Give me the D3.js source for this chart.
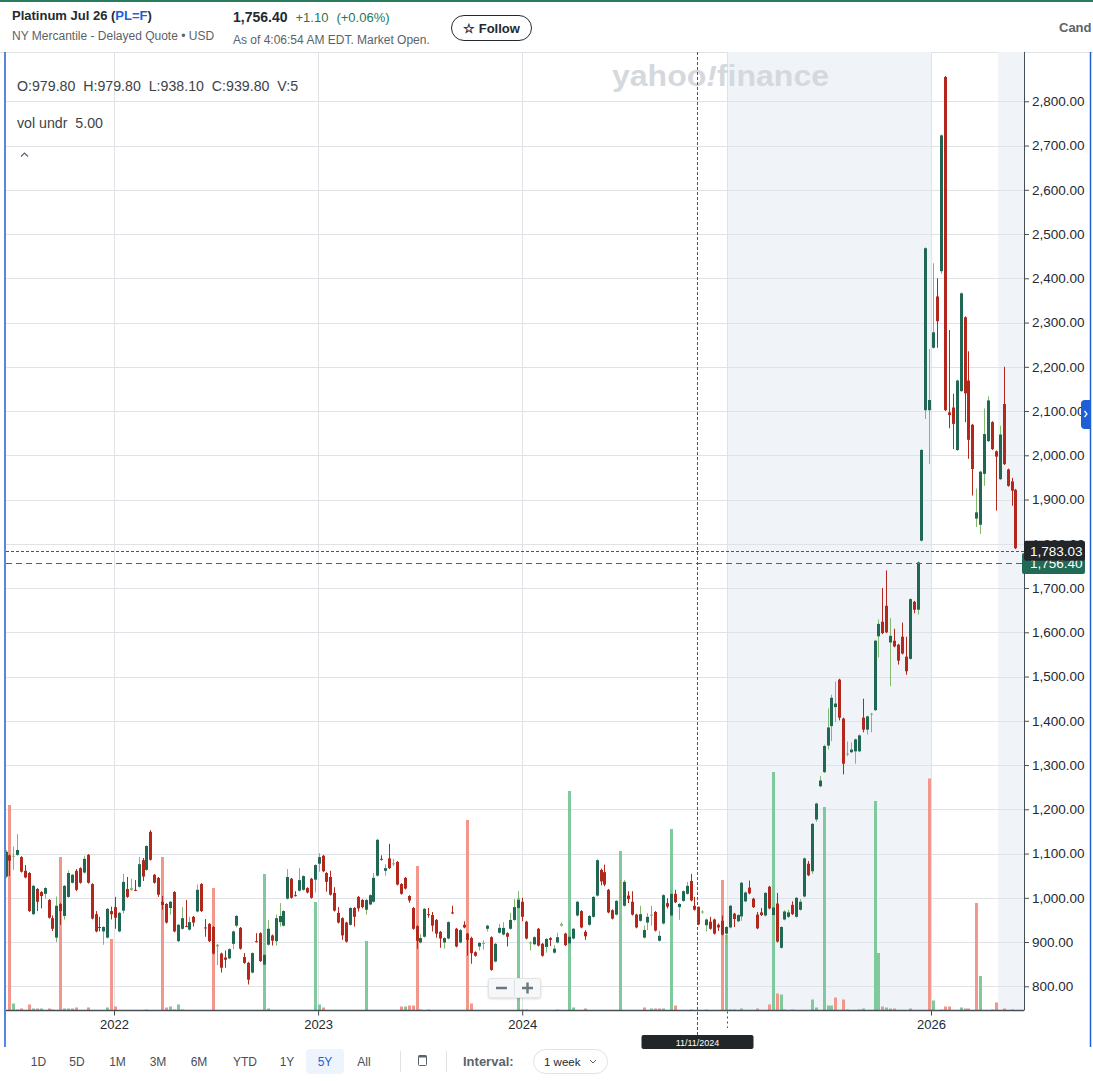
<!DOCTYPE html>
<html>
<head>
<meta charset="utf-8">
<title>Platinum Jul 26 (PL=F)</title>
<script src="https://cdn.jsdelivr.net/npm/d3@7"></script>
<style>
  html, body { margin: 0; padding: 0; background: #fff; }
  svg { display: block; font-family: "Liberation Sans", Arial, Helvetica, sans-serif; }
</style>
</head>
<body>
<script>
// weekly candles, Monday weeks starting 2021-06-21
const firstWeek = "2021-06-21";

const opens = [1048,1096,1093,1097,1092,1061,1056,963,1020,1013,
  1009,995,954,910,986,959,1002,1034,1061,1067,
  1057,1097,1031,963,934,924,910,970,979,924,
  971,1020,1018,1018,1025,1085,1063,1149,1052,1045,
  991,986,977,1013,902,930,936,928,957,969,
  1031,933,941,934,890,874,865,863,896,937,
  932,866,853,831,902,920,849,894,915,902,
  945,937,998,1043,1006,1016,1018,1022,1043,1041,
  1077,1095,1056,1047,1011,966,954,944,939,977,
  1002,995,973,985,991,1050,1088,1061,1089,1077,
  1081,1031,1045,1004,977,936,899,912,963,961,
  950,923,899,908,967,930,899,939,919,909,
  877,890,896,930,911,856,921,917,920,930,
  950,977,991,946,898,895,930,896,889,909,
  876,899,937,919,897,908,960,970,923,939,
  957,1005,1063,1058,1018,972,962,998,982,1005,
  991,962,948,910,944,961,968,903,942,988,
  960,1009,979,993,1009,1038,982,979.8,967,938,
  946,951,939,948,919,933,964,947,958,992,
  1023,998,962,967,960,1025,961,987,887,951,
  957,984,957,973,1003,1077,1060,1177,1252,1284,
  1344,1388,1431,1493,1405,1324,1329,1331,1331,1407,
  1380,1414,1424,1591,1624,1660,1577,1581,1572,1590,
  1545,1540,1669,1651,1807,2102,2102,2243,2359,2416,
  2855,2097,2108,2012,2145,2312,2169,2069,1857,1843,
  1958,2032,2075,2009,1946,2116,1968,1941,1922];

const highs = [1108,1098,1116,1144,1094,1074,1058,1029,1022,1015,
  1024,997,960,1003,988,1029,1062,1054,1065,1069,
  1095,1099,1033,970,957,936,977,980,1002,968,
  1054,1047,1043,1040,1092,1090,1119,1153,1054,1047,
  1004,988,993,1015,941,979,995,957,959,1030,
  1033,952,943,936,896,876,881,886,926,961,
  934,875,855,877,920,922,873,950,917,962,
  988,972,1065,1045,1015,1067,1051,1024,1045,1076,
  1101,1097,1058,1061,1024,979,956,946,979,979,
  1004,997,997,1008,1056,1133,1096,1076,1122,1088,
  1083,1033,1047,1006,979,938,918,977,977,968,
  952,925,911,947,982,932,929,947,921,912,
  879,900,904,939,913,898,941,945,922,966,
  997,1015,1000,948,902,913,932,898,909,911,
  893,921,944,921,946,932,993,972,927,961,
  1004,1087,1066,1075,1020,974,995,1040,1040,1015,
  1015,964,982,937,965,982,970,925,1008,999,
  1018,1018,988,1017,1036,1054,1002,979.8,972,953,
  957,953,942,960,936,984,966,963,1036,1014,
  1039,1000,968,977,1013,1027,980,1011,936,972,
  973,992,1002,997,1091,1083,1169,1215,1275,1346,
  1428,1459,1489,1495,1407,1353,1351,1360,1369,1450,
  1412,1418,1583,1629,1700,1740,1632,1608,1574,1622,
  1590,1677,1671,1760,2014,2470,2240,2434,2400,2725,
  2857,2283,2139,2171,2368,2314,2235,2071,1925,1965,
  2106,2133,2077,2011,2067,2200,1970,1949,1924];

const lows = [1044,1049,1063,1095,1057,1044,968,961,970,976,
  998,953,925,900,939,951,1000,1032,1015,1032,
  1055,1032,951,922,924,894,908,951,930,922,
  964,1000,1016,1015,1023,1038,1061,1084,1032,1002,
  973,942,962,922,900,928,934,926,935,967,
  968,912,900,872,848,831,842,861,884,933,
  883,851,804,829,899,855,847,892,892,892,
  935,935,996,998,1003,1014,1016,1010,998,1012,
  1059,1058,1014,1005,969,942,905,899,937,935,
  969,976,962,983,989,1048,1084,1050,1065,1072,
  1028,1007,1019,989,928,885,897,910,955,924,
  910,887,885,906,963,888,897,931,869,851,
  867,881,883,924,835,854,919,915,890,928,
  948,975,947,906,881,893,890,867,876,891,
  874,897,935,891,890,906,958,931,905,937,
  955,1003,1028,1026,965,951,960,996,980,988,
  960,931,946,908,927,937,924,901,940,976,
  958,988,950,991,1007,992,971,938.1,964,924,
  928,917,925,915,896,931,934,945,948,990,
  1008,977,929,959,958,974,959,899,885,949,
  954,961,955,971,1001,1049,1054,1172,1250,1282,
  1335,1354,1397,1401,1279,1320,1327,1303,1329,1374,
  1369,1374,1422,1543,1596,1598,1478,1566,1527,1550,
  1504,1538,1643,1640,1805,2082,1980,2241,2243,2410,
  2100,2061,2014,2010,2143,2075,1992,1909,1838,1822,
  1931,2030,2012,1875,1944,1978,1929,1886,1788];

const closes = [1104,1084,1095,1108,1059,1046,970,1027,991,1004,
  1022,955,930,982,970,1027,1056,1052,1018,1034,
  1088,1034,953,924,933,934,975,963,955,966,
  1036,1002,1022,1016,1076,1048,1117,1086,1034,1007,
  984,944,991,924,939,954,935,945,944,1018,
  970,932,902,874,894,842,860,884,924,959,
  885,853,815,875,901,857,871,930,903,954,
  959,970,1047,1000,1005,1040,1049,1012,1000,1074,
  1092,1060,1036,1007,971,944,915,901,977,957,
  976,979,995,1006,1045,1131,1086,1067,1067,1078,
  1030,1009,1021,994,930,903,909,975,962,937,
  919,908,909,945,965,890,927,933,905,875,
  869,898,898,937,837,896,932,932,912,950,
  979,995,957,908,899,911,892,869,907,905,
  885,911,941,893,912,930,991,933,913,959,
  1002,1085,1037,1030,967,953,993,1002,1036,997,
  962,933,963,927,957,962,926,914,1006,980,
  1009,990,986,1015,1027,994,973,939.8,969,951,
  930,919,933,917,934,982,952,961,1034,1012,
  1010,979,931,961,1011,976,978,901,934,969,
  967,963,1000,991,1089,1051,1167,1213,1265,1343,
  1385,1452,1439,1407,1303,1326,1335,1358,1367,1380,
  1410,1416,1581,1619,1598,1600,1592,1568,1536,1552,
  1512,1675,1651,1758,2012,2468,2125,2278,2303,2723,
  2102,2091,2071,2169,2366,2140,2035,1969,1871,1963,
  2048,2124,2014,1997,2047,1980,1931,1920,1790];

const volumes = [50,20550,700,100,200,50,600,200,200,200,
  50,200,100,30,15350,200,200,200,300,30,
  30,300,50,50,30,50,300,7150,400,50,
  30,50,30,50,30,30,100,50,30,50,
  15350,300,400,100,600,100,50,30,50,30,
  30,50,30,12250,50,30,30,50,30,30,
  30,50,30,30,50,30,13650,200,30,30,
  50,30,30,30,50,30,30,30,50,10850,
  600,300,30,30,50,30,30,30,30,30,
  50,30,6950,30,30,50,30,30,30,50,
  30,400,400,500,500,14450,100,30,100,30,
  30,50,30,30,30,50,30,30,19050,700,
  30,30,50,30,30,30,50,30,30,30,
  30,11250,100,100,30,30,50,30,30,30,
  30,100,30,30,21950,300,30,30,200,30,
  30,30,50,30,30,30,30,15950,30,30,
  30,30,30,300,30,200,200,200,200,30,
  18150,500,30,30,30,100,30,5,30,100,
  30,30,30,13050,7550,100,100,30,200,30,
  30,30,200,30,30,600,23850,1700,1600,100,
  30,100,30,30,30,30,1100,300,30,20350,
  500,500,1300,30,1100,100,30,30,100,200,
  30,30,20950,5750,400,300,200,200,30,30,
  30,200,30,30,30,30,23200,1000,30,100,
  400,400,30,30,300,200,200,30,10750,3450,
  30,30,100,800,30,200,30,100,50];

const priceTicks = d3.range(800, 2801, 100);
const yearLabels = ["2022-01-01", "2023-01-01", "2024-01-01", "2026-01-01"];
const yearGrid = ["2022-01-01", "2023-01-01", "2024-01-01", "2025-01-01", "2026-01-01"];
const shadeBands = [["2025-01-01", "2026-01-01"], ["2026-05-01", "2026-07-01"]];
const rangeButtons = ["1D", "5D", "1M", "3M", "6M", "YTD", "1Y", "5Y", "All"];
const rangeCenters = [38.5, 77, 117.5, 158, 199, 245, 287, 325, 364];
const crosshairWeek = "2024-11-11";
const crosshairPrice = 1783.03;
const lastPrice = 1756.40;

const width = 1093;
const height = 1081;
const plot = { left: 6, right: 1024, top: 52, bottom: 1010.5 };

const ink = "#232a31";
const gray = "#5b636a";
const gridColor = "#dfe2e6";
const shadeColor = "#f0f4f8";
const upBody = "#216854";
const upWick = "#82b96e";
const downColor = "#b2281c";
const volUp = "#80c99c";
const volDown = "#f3968c";
const blue = "#1e5fd6";

const parseDay = d3.utcParse("%Y-%m-%d");
const start = parseDay(firstWeek);
const weeks = opens.map((d, i) => d3.utcDay.offset(start, 7 * i));

const x = d3.scaleUtc()
    .domain([parseDay("2022-01-01"), parseDay("2026-01-01")])
    .range([114, 931]);
const y = d3.scaleLinear()
    .domain([800, 2800])
    .range([986.3, 101.3]);
const yVol = d3.scaleLinear()
    .domain([0, 24000])
    .range([plot.bottom, plot.bottom - 240]);

const svg = d3.select("body").append("svg")
    .attr("width", width)
    .attr("height", height);

svg.append("defs").append("clipPath")
    .attr("id", "plot-clip")
    .append("rect")
    .attr("x", plot.left)
    .attr("y", plot.top)
    .attr("width", plot.right - plot.left)
    .attr("height", plot.bottom - plot.top);

// header
svg.append("rect").attr("x", 0).attr("y", 0).attr("width", width).attr("height", 2).attr("fill", "#2a7a5e");

let title = svg.append("text").attr("x", 12).attr("y", 20)
    .attr("font-size", 13).attr("font-weight", 700).attr("fill", ink);
title.append("tspan").text("Platinum Jul 26 (");
title.append("tspan").attr("fill", blue).text("PL=F");
title.append("tspan").text(")");

svg.append("text").attr("x", 12).attr("y", 40)
    .attr("font-size", 12).attr("fill", gray)
    .text("NY Mercantile - Delayed Quote \u2022 USD");

let quote = svg.append("text").attr("x", 233).attr("y", 22)
    .attr("font-size", 14).attr("font-weight", 700).attr("fill", ink);
quote.append("tspan").text(d3.format(",.2f")(lastPrice));
quote.append("tspan").attr("dx", 8).attr("font-weight", 400).attr("font-size", 13).attr("fill", "#1c7a55").text("+1.10");
quote.append("tspan").attr("dx", 8).attr("font-weight", 400).attr("font-size", 13).attr("fill", "#1c7a55").text("(+0.06%)");

svg.append("text").attr("x", 233).attr("y", 44)
    .attr("font-size", 12).attr("fill", gray)
    .text("As of 4:06:54 AM EDT. Market Open.");

svg.append("rect").attr("x", 451.5).attr("y", 15.5).attr("width", 80).attr("height", 25).attr("rx", 12.5)
    .attr("fill", "#fff").attr("stroke", ink).attr("stroke-width", 1);
svg.append("text").attr("x", 491.5).attr("y", 33).attr("text-anchor", "middle")
    .attr("font-size", 13).attr("font-weight", 700).attr("fill", ink)
    .text("\u2606 Follow");

svg.append("text").attr("x", 1059).attr("y", 32)
    .attr("font-size", 13).attr("font-weight", 700).attr("fill", gray)
    .text("Cand");

svg.append("line").attr("x1", 0).attr("x2", width).attr("y1", 52.5).attr("y2", 52.5)
    .attr("stroke", gridColor);

// background bands and grid
let back = svg.append("g").attr("clip-path", "url(#plot-clip)");
back.selectAll("rect.band")
    .data(shadeBands)
    .enter()
    .append("rect")
    .classed("band", true)
    .attr("x", d => x(parseDay(d[0])))
    .attr("y", plot.top)
    .attr("width", d => x(parseDay(d[1])) - x(parseDay(d[0])))
    .attr("height", plot.bottom - plot.top)
    .attr("fill", shadeColor);

back.selectAll("line.hgrid")
    .data(priceTicks)
    .enter()
    .append("line")
    .classed("hgrid", true)
    .attr("x1", plot.left).attr("x2", plot.right)
    .attr("y1", d => Math.round(y(d)) + 0.5).attr("y2", d => Math.round(y(d)) + 0.5)
    .attr("stroke", gridColor);

back.selectAll("line.vgrid")
    .data(yearGrid)
    .enter()
    .append("line")
    .classed("vgrid", true)
    .attr("x1", d => Math.round(x(parseDay(d))) + 0.5).attr("x2", d => Math.round(x(parseDay(d))) + 0.5)
    .attr("y1", plot.top).attr("y2", plot.bottom)
    .attr("stroke", gridColor);

// watermark
let mark = svg.append("text").attr("x", 612).attr("y", 86)
    .attr("font-size", 29).attr("font-weight", 700).attr("fill", "#d5d9de")
    .attr("textLength", 217).attr("lengthAdjust", "spacingAndGlyphs");
mark.append("tspan").text("yahoo");
mark.append("tspan").attr("font-style", "italic").text("!");
mark.append("tspan").text("finance");

// volume
let candles = weeks.map((d, i) => ({
    date: d,
    o: opens[i], h: highs[i], l: lows[i], c: closes[i], v: volumes[i],
    volUp: i === 0 ? closes[i] >= opens[i] : closes[i] >= closes[i - 1]
}));

let marks = svg.append("g").attr("clip-path", "url(#plot-clip)");
marks.append("g")
    .selectAll("rect.vol")
    .data(candles)
    .enter()
    .append("rect")
    .classed("vol", true)
    .attr("x", d => Math.round(x(d.date)) - 1)
    .attr("y", d => yVol(d.v))
    .attr("width", 3)
    .attr("height", d => plot.bottom - yVol(d.v))
    .attr("fill", d => d.volUp ? volUp : volDown);

// candles
let candleG = marks.append("g")
    .selectAll("g.candle")
    .data(candles)
    .enter()
    .append("g")
    .classed("candle", true);

candleG.append("line")
    .attr("x1", d => Math.round(x(d.date)) + 0.5)
    .attr("x2", d => Math.round(x(d.date)) + 0.5)
    .attr("y1", d => y(Math.max(d.h, d.o, d.c)))
    .attr("y2", d => y(Math.min(d.l, d.o, d.c)))
    .attr("stroke", d => d.c >= d.o ? upWick : downColor)
    .attr("stroke-width", 1);

candleG.append("rect")
    .attr("x", d => Math.round(x(d.date)) - 1)
    .attr("y", d => y(Math.max(d.o, d.c)))
    .attr("width", 3)
    .attr("height", d => Math.max(1, y(Math.min(d.o, d.c)) - y(Math.max(d.o, d.c))))
    .attr("fill", d => {
        if (d.c < d.o) return downColor;
        return (y(d.o) - y(d.c)) < 2 ? upWick : upBody;
    });

// crosshair + price lines
let crossIndex = weeks.findIndex(d => +d === +parseDay(crosshairWeek));
let crossX = Math.round(x(weeks[crossIndex])) - 0.5;

svg.append("line")
    .attr("x1", plot.left).attr("x2", plot.right)
    .attr("y1", Math.round(y(lastPrice)) + 0.5).attr("y2", Math.round(y(lastPrice)) + 0.5)
    .attr("stroke", "#3f6e62").attr("stroke-dasharray", "6,4");
svg.append("line")
    .attr("x1", plot.left).attr("x2", plot.right)
    .attr("y1", Math.round(y(crosshairPrice)) + 0.5).attr("y2", Math.round(y(crosshairPrice)) + 0.5)
    .attr("stroke", "#555").attr("stroke-dasharray", "3,2");
svg.append("line")
    .attr("x1", crossX).attr("x2", crossX)
    .attr("y1", plot.top).attr("y2", 1035)
    .attr("stroke", "#555").attr("stroke-dasharray", "3,2");

// axes
svg.append("line").attr("x1", plot.left).attr("x2", plot.right)
    .attr("y1", plot.bottom).attr("y2", plot.bottom)
    .attr("stroke", "#464e56").attr("stroke-width", 1.5);
svg.append("line").attr("x1", plot.right + 0.5).attr("x2", plot.right + 0.5)
    .attr("y1", plot.top).attr("y2", plot.bottom)
    .attr("stroke", "#464e56");

let yAxis = svg.append("g")
    .attr("transform", `translate(${plot.right + 1},0)`)
    .call(d3.axisRight(y).tickValues(priceTicks).tickFormat(d3.format(",.2f")).tickSize(4).tickPadding(3));
yAxis.select(".domain").remove();
yAxis.selectAll(".tick line").attr("stroke", "#464e56");
yAxis.selectAll(".tick text")
    .attr("fill", ink)
    .attr("font-size", 13.5)
    .attr("font-family", "\"Liberation Sans\", Arial, sans-serif");

let xAxis = svg.append("g")
    .attr("transform", `translate(0,${plot.bottom})`)
    .call(d3.axisBottom(x).tickValues(yearLabels.map(parseDay)).tickFormat(d3.utcFormat("%Y")).tickSize(5).tickPadding(4));
xAxis.select(".domain").remove();
xAxis.selectAll(".tick line").attr("stroke", "#464e56");
xAxis.selectAll(".tick text")
    .attr("fill", ink)
    .attr("font-size", 13)
    .attr("font-family", "\"Liberation Sans\", Arial, sans-serif");

let x2025 = Math.round(x(parseDay("2025-01-01"))) + 0.5;
svg.append("line").attr("x1", x2025).attr("x2", x2025)
    .attr("y1", plot.bottom + 1).attr("y2", 1028)
    .attr("stroke", "#464e56").attr("stroke-dasharray", "2,3");

// price labels
svg.append("rect").attr("x", 1022).attr("y", y(lastPrice) - 10).attr("width", 63).attr("height", 21)
    .attr("rx", 2).attr("fill", "#216a55");
svg.append("text").attr("x", 1030).attr("y", y(lastPrice) + 5)
    .attr("font-size", 13.5).attr("fill", "#fff").text(d3.format(",.2f")(lastPrice));
svg.append("rect").attr("x", 1024).attr("y", y(crosshairPrice) - 10.5).attr("width", 61).attr("height", 20)
    .attr("rx", 2).attr("fill", "#232628");
svg.append("text").attr("x", 1030).attr("y", y(crosshairPrice) + 4.5)
    .attr("font-size", 13.5).attr("fill", "#fff").text(d3.format(",.2f")(crosshairPrice));

// crosshair date label
svg.append("rect").attr("x", crossX - 56).attr("y", 1035).attr("width", 112).attr("height", 14)
    .attr("rx", 2).attr("fill", "#232628");
svg.append("text").attr("x", crossX).attr("y", 1045.5).attr("text-anchor", "middle")
    .attr("font-size", 9).attr("fill", "#fff")
    .text(d3.utcFormat("%m/%d/%Y")(weeks[crossIndex]));

// OHLC legend
let fmt = d3.format(".2f");
let c0 = candles[crossIndex];
svg.append("text").attr("x", 17).attr("y", 91)
    .attr("font-size", 14.2).attr("fill", "#3d4449")
    .attr("xml:space", "preserve")
    .text(`O:${fmt(c0.o)}  H:${fmt(c0.h)}  L:${fmt(c0.l)}  C:${fmt(c0.c)}  V:${c0.v}`);
svg.append("text").attr("x", 17).attr("y", 128)
    .attr("font-size", 14.2).attr("fill", "#3d4449")
    .attr("xml:space", "preserve")
    .text(`vol undr  ${fmt(c0.v)}`);
svg.append("path").attr("d", "M21,156.5 L24.5,153 L28,156.5")
    .attr("fill", "none").attr("stroke", "#5b636a").attr("stroke-width", 1.2);

// zoom buttons
svg.append("rect").attr("x", 488.5).attr("y", 978.5).attr("width", 52).attr("height", 19).attr("rx", 2)
    .attr("fill", "#f6f7f8").attr("stroke", "#e3e5e8")
    .style("filter", "drop-shadow(0 1px 1px rgba(0,0,0,0.15))");
svg.append("line").attr("x1", 514.5).attr("x2", 514.5).attr("y1", 980).attr("y2", 996).attr("stroke", "#e0e2e5");
svg.append("line").attr("x1", 496).attr("x2", 507).attr("y1", 988).attr("y2", 988).attr("stroke", "#6e7780").attr("stroke-width", 2.5);
svg.append("line").attr("x1", 522).attr("x2", 533).attr("y1", 988).attr("y2", 988).attr("stroke", "#6e7780").attr("stroke-width", 2.5);
svg.append("line").attr("x1", 527.5).attr("x2", 527.5).attr("y1", 982.5).attr("y2", 993.5).attr("stroke", "#6e7780").attr("stroke-width", 2.5);

// outer blue frame and right tab
svg.append("line").attr("x1", 5).attr("x2", 5).attr("y1", plot.top).attr("y2", 1047).attr("stroke", blue).attr("stroke-width", 1.5);
svg.append("line").attr("x1", 1090.5).attr("x2", 1090.5).attr("y1", plot.top).attr("y2", 1047).attr("stroke", blue).attr("stroke-width", 1.5);
svg.append("path").attr("d", "M1091,400 L1085,400 Q1081,400 1081,404 L1081,425 Q1081,429 1085,429 L1091,429 Z").attr("fill", blue);
svg.append("path").attr("d", "M1084.5,411 L1087,414 L1084.5,417").attr("fill", "none").attr("stroke", "#fff").attr("stroke-width", 1.2);

// bottom range bar
svg.append("rect").attr("x", 306).attr("y", 1049).attr("width", 38).attr("height", 25).attr("rx", 4).attr("fill", "#eef4fc");
svg.append("g")
    .selectAll("text")
    .data(rangeButtons)
    .enter()
    .append("text")
    .attr("x", (d, i) => rangeCenters[i])
    .attr("y", 1066)
    .attr("text-anchor", "middle")
    .attr("font-size", 12)
    .attr("fill", d => d === "5Y" ? blue : "#464e56")
    .text(d => d);
svg.append("line").attr("x1", 400.5).attr("x2", 400.5).attr("y1", 1051).attr("y2", 1072).attr("stroke", "#dfe2e6");
svg.append("rect").attr("x", 418.5).attr("y", 1055.5).attr("width", 8).attr("height", 10).attr("rx", 1)
    .attr("fill", "none").attr("stroke", "#5b636a");
svg.append("rect").attr("x", 418.5).attr("y", 1055.5).attr("width", 8).attr("height", 2).attr("fill", "#5b636a");
svg.append("line").attr("x1", 446.5).attr("x2", 446.5).attr("y1", 1051).attr("y2", 1072).attr("stroke", "#dfe2e6");
svg.append("text").attr("x", 463).attr("y", 1066).attr("font-size", 13).attr("font-weight", 700).attr("fill", "#5b636a").text("Interval:");
svg.append("rect").attr("x", 533.5).attr("y", 1049.5).attr("width", 74).attr("height", 24).attr("rx", 12)
    .attr("fill", "#fff").attr("stroke", "#dfe2e6");
svg.append("text").attr("x", 544).attr("y", 1065.5).attr("font-size", 11.5).attr("fill", ink).text("1 week");
svg.append("path").attr("d", "M590,1060 L593,1063 L596,1060").attr("fill", "none").attr("stroke", "#5b636a").attr("stroke-width", 1);
</script>
</body>
</html>
